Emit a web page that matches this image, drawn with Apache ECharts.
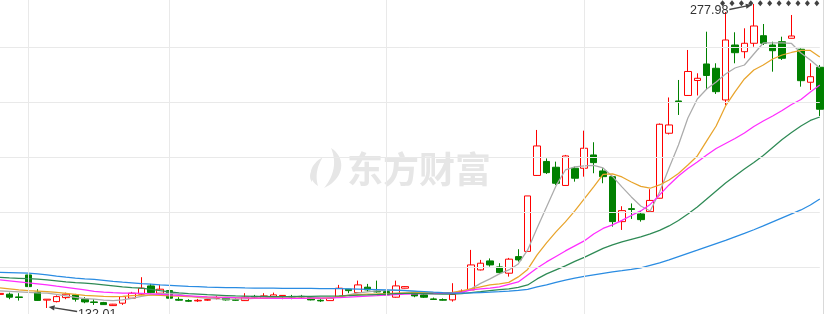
<!DOCTYPE html>
<html><head><meta charset="utf-8">
<script src="https://cdn.jsdelivr.net/npm/echarts@6/dist/echarts.min.js"></script>
<style>html,body{margin:0;padding:0;background:#fff;overflow:hidden}#c{width:826px;height:314px}</style>
</head><body><div id="c"></div>
<script>
// ---- data (price values) ----
const opens = [138.54,138.64,137.34,147.9,139.6,135.8,135.08,137.0,138.3,136.24,
134.94,134.6,133.16,134.32,136.72,138.64,142.62,139.12,140.36,136.14,
135.56,135.42,135.76,136.62,136.72,136.04,135.56,137.58,136.62,137.48,
137.82,137.58,137.58,137.0,135.71,135.56,137.2,141.04,139.4,142.0,
140.08,139.88,137.2,141.52,139.4,138.3,136.38,136.04,135.9,139.64,
140.7,150.3,154.62,151.74,148.72,156.68,159.18,195.66,202.38,199.6,
190.86,199.12,199.12,205.5,197.82,195.08,173.48,179.72,177.18,178.28,
184.72,215.92,231.42,234.06,241.26,249.18,247.12,231.9,258.3,255.08,
259.12,262.76,258.3,259.88,261.52,256.24,240.4,247.6];
const closes = [139.02,137.2,137.05,142.28,135.66,136.24,137.48,138.64,136.24,134.94,
134.65,133.64,133.84,137.48,139.12,141.52,139.4,141.04,136.72,135.76,
135.28,135.71,136.04,137.0,135.9,135.71,137.2,137.24,137.82,138.3,
138.06,137.34,137.34,135.9,135.42,136.72,141.52,140.36,143.1,140.7,
139.74,138.3,142.62,142.28,137.82,137.2,136.09,135.76,138.54,140.03,
152.7,153.52,152.7,149.0,155.46,155.1,185.82,209.82,197.0,191.9,
205.02,194.32,208.72,201.8,195.08,173.48,178.76,179.34,174.44,183.66,
220.24,219.9,231.08,245.58,242.32,243.66,235.88,260.7,254.6,259.12,
267.42,259.12,255.56,251.92,262.62,241.16,243.08,227.44];
const lows = [138.3,136.24,135.56,140.36,135.42,132.01,134.7,136.24,135.08,134.32,
133.5,133.5,133.02,133.5,136.38,138.3,139.12,138.78,136.24,135.42,
134.94,134.94,135.42,136.14,135.56,135.42,135.42,136.86,136.38,137.2,
136.24,136.24,136.86,135.66,134.94,135.42,137.0,139.12,139.26,139.88,
139.4,138.06,137.0,141.42,137.2,136.86,135.9,135.56,135.08,139.12,
140.56,150.06,151.88,148.38,147.08,154.28,159.08,195.42,196.38,191.1,
190.76,192.68,195.08,196.72,191.92,171.08,169.5,174.78,173.48,178.14,
184.62,215.34,224.7,233.82,234.06,236.7,234.78,229.5,249.52,251.92,
257.48,258.3,245.48,251.1,261.42,238.28,236.7,224.22];
const highs = [139.74,139.4,139.12,149.34,141.04,136.24,138.06,139.4,138.78,137.2,
136.24,134.94,133.98,137.58,139.74,146.8,143.58,143.1,141.04,137.2,
136.24,136.38,136.62,137.82,137.0,136.62,139.12,138.3,139.12,139.4,
138.06,138.3,138.3,137.34,136.24,136.86,143.1,141.18,145.16,143.58,
145.16,143.92,145.16,142.48,139.74,138.54,137.0,136.62,143.92,140.94,
159.9,155.1,155.82,153.52,156.06,160.24,185.82,217.5,203.82,202.28,
205.5,199.88,217.16,211.6,199.12,195.42,180.88,182.22,178.62,189.04,
220.62,233.1,241.5,255.9,244.72,264.68,249.52,274.14,264.4,266.32,
277.98,268.38,259.88,262.28,272.7,256.62,249.52,248.7];

const ma5 = [140.22,139.98,139.74,139.5,139.26,139.12,138.54,137.82,137.1,136.52,
136.24,135.76,135.61,135.9,136.62,137.58,138.3,138.92,139.12,138.54,
137.82,137.1,136.62,136.38,136.24,136.24,136.38,136.62,136.86,137.1,
137.34,137.48,137.58,137.34,136.86,136.62,137.34,138.3,139.26,139.74,
140.22,140.46,140.46,140.46,139.98,139.5,139.12,139.12,139.26,139.5,
141.18,143.82,145.98,148.38,150.3,153.18,159.9,170.46,180.54,190.62,
198.3,199.74,200.22,200.46,199.26,195.18,190.14,185.34,181.02,178.62,
187.74,199.26,210.3,223.26,232.38,237.18,240.54,244.38,247.26,248.7,
253.98,259.26,259.26,259.26,259.02,254.46,251.1,247.26];
const ma10 = [141.66,141.18,140.7,140.36,140.12,139.88,139.5,139.02,138.54,138.06,
137.82,137.58,137.44,137.58,137.92,138.2,138.2,138.06,137.82,137.68,
137.53,137.39,137.24,137.15,137.1,136.96,136.86,136.76,136.72,136.72,
136.76,136.76,136.72,136.62,136.62,136.86,137.58,138.06,138.4,138.64,
138.78,138.97,139.12,139.26,139.4,139.36,139.26,139.26,139.5,140.22,
141.18,142.14,143.1,143.58,144.3,146.94,150.54,157.5,163.26,168.54,
173.34,178.62,184.38,190.14,196.14,196.38,194.94,192.54,190.38,189.52,
191.1,193.5,196.62,200.7,205.02,212.22,219.42,229.02,235.74,241.98,
246.3,248.7,251.58,253.5,254.7,255.66,255.66,252.54];
const ma20 = [145.5,145.02,144.54,144.06,143.58,143.1,142.48,141.9,141.32,140.7,
139.98,139.64,139.36,139.16,139.12,139.02,138.78,138.54,138.3,138.06,
137.82,137.58,137.34,137.2,137.1,136.96,136.86,136.76,136.72,136.67,
136.62,136.62,136.67,136.72,136.76,136.86,137.05,137.24,137.48,137.72,
137.92,138.16,138.4,138.64,138.78,138.88,138.97,139.02,139.07,139.5,
140.7,141.18,141.52,142.14,143.34,144.54,147.9,151.26,154.14,156.78,
159.42,161.82,164.22,167.58,170.22,171.9,174.06,176.46,178.62,181.74,
186.3,191.1,195.42,199.02,202.14,205.5,208.62,211.02,213.42,216.06,
219.18,221.82,224.22,226.86,229.74,232.14,235.74,239.1];
const ma30 = [146.7,146.46,146.27,146.08,145.84,145.5,145.02,144.54,144.16,143.92,
143.58,143.1,142.62,142.14,141.8,141.52,140.94,140.32,139.74,139.26,
138.88,138.64,138.4,138.2,138.01,137.82,137.72,137.63,137.58,137.53,
137.53,137.53,137.58,137.63,137.68,137.72,137.82,137.96,138.16,138.3,
138.49,138.68,138.88,139.02,139.07,138.97,138.78,138.68,138.64,138.88,
139.36,139.84,140.36,140.8,141.18,141.9,143.1,145.98,148.38,150.3,
152.22,154.38,156.3,158.46,160.62,162.3,163.74,164.94,166.14,167.58,
169.26,171.42,174.06,177.18,180.54,184.38,188.22,192.06,195.42,198.78,
201.9,205.26,209.1,212.94,216.3,219.42,222.06,223.74];
const ma60 = [149.1,149.0,148.86,148.72,148.38,147.9,147.28,146.8,146.36,145.98,
145.74,145.26,144.78,144.4,144.06,143.72,143.44,143.1,142.86,142.62,
142.38,142.24,142.04,141.95,141.85,141.76,141.66,141.61,141.56,141.52,
141.47,141.47,141.42,141.42,141.37,141.32,141.28,141.18,141.08,140.99,
140.84,140.7,140.56,140.36,140.12,139.88,139.6,139.36,139.16,139.12,
139.26,139.45,139.64,139.84,140.12,140.46,140.94,142.14,143.1,144.3,
145.4,146.36,147.18,147.9,148.62,149.34,149.92,150.54,151.26,152.46,
153.66,155.1,156.68,158.22,159.76,161.34,162.92,164.46,166.14,167.82,
169.6,171.42,173.34,175.26,177.18,179.1,181.5,184.38];

const gridLevels = [257.33, 230.92, 204.51, 178.09, 151.68];
const monthStartIdx = [3, 18, 41, 62];
const highIdx = 80, highVal = 277.98;
const lowIdx = 5, lowVal = 132.01;
const peakDotIdx = [77, 78, 79, 80, 81, 82, 83, 84, 85, 86, 87];
const categories = opens.map((_, i) => 'K' + (i + 1));

// ---- chart ----
const chart = echarts.init(document.getElementById('c'), null, {renderer: 'canvas'});
const kData = opens.map((o, i) => [o, closes[i], lows[i], highs[i]]);
const maLine = (name, data, color) => ({
  name, type: 'line', data, symbol: 'none', smooth: false, silent: true,
  lineStyle: {color, width: 1.25}, z: 3, animation: false
});
const gridLine = {color: '#e9e9e9', width: 1, type: 'solid'};

chart.setOption({
  animation: false,
  backgroundColor: '#ffffff',
  grid: {left: 0, right: 6.2, top: 0, bottom: 0, containLabel: false},
  xAxis: {type: 'category', data: categories, boundaryGap: false,
    axisLine: {show: false}, axisTick: {show: false}, axisLabel: {show: false}, splitLine: {show: false}},
  yAxis: {type: 'value', min: 129.13, max: 279.9, position: 'right', offset: 3.3,
    axisLabel: {show: false}, axisTick: {show: false}, splitLine: {show: false},
    axisLine: {show: true, lineStyle: {color: '#d9d9d9', width: 1}}},
  series: [
    {type: 'line', data: categories.map(() => null), z: 1, silent: true, symbol: 'none',
      markLine: {silent: true, symbol: 'none', label: {show: false}, lineStyle: gridLine,
        data: monthStartIdx.map(i => ({xAxis: categories[i]})).concat(gridLevels.map(v => ({yAxis: v})))}},
    {type: 'candlestick', data: kData, barWidth: 7, z: 2,
      itemStyle: {color: 'transparent', color0: '#008000', borderColor: '#ff0000', borderColor0: '#008000', borderWidth: 1}},
    maLine('MA5', ma5, '#ababab'),
    maLine('MA10', ma10, '#e8a42c'),
    maLine('MA20', ma20, '#ff2cff'),
    maLine('MA30', ma30, '#2e8a55'),
    maLine('MA60', ma60, '#2a8ce2'),
    {type: 'scatter', silent: true, z: 6, symbol: 'diamond', symbolSize: [5, 6], symbolOffset: [-3, -0.7],
      itemStyle: {color: '#111'},
      data: peakDotIdx.map(i => [categories[i], highVal])}
  ]
});

// ---- annotations & watermark ----
const hp = chart.convertToPixel({xAxisIndex: 0, yAxisIndex: 0}, [highIdx, highVal]);
const lp = chart.convertToPixel({xAxisIndex: 0, yAxisIndex: 0}, [lowIdx, lowVal]);
function arrow(x1, y1, x2, y2, color) {
  const dx = x2 - x1, dy = y2 - y1, L = Math.hypot(dx, dy), ux = dx / L, uy = dy / L;
  const hl = 6, hw = 2.6;
  const bx = x2 - ux * hl, by = y2 - uy * hl;
  return [
    {type: 'line', shape: {x1, y1, x2: bx, y2: by}, style: {stroke: color, lineWidth: 1.3}, z: 50},
    {type: 'polygon', shape: {points: [[x2, y2], [bx - uy * hw, by + ux * hw], [bx + uy * hw, by - ux * hw]]},
      style: {fill: color}, z: 50}
  ];
}
function leaf(p0, c1, c2, p1, d1, d2) {
  const pts = [];
  const cub = (a, b, c, d, t) => {
    const u = 1 - t;
    return [u*u*u*a[0] + 3*u*u*t*b[0] + 3*u*t*t*c[0] + t*t*t*d[0],
            u*u*u*a[1] + 3*u*u*t*b[1] + 3*u*t*t*c[1] + t*t*t*d[1]];
  };
  for (let t = 0; t <= 1.0001; t += 0.05) pts.push(cub(p0, c1, c2, p1, t));
  for (let t = 0; t <= 1.0001; t += 0.05) pts.push(cub(p1, d1, d2, p0, t));
  return {type: 'polygon', z: -5, silent: true, shape: {points: pts}, style: {fill: '#e6e6e6'}};
}
const annColor = '#444';
const graphics = [
  {type: 'text', x: 347, y: 169, z: -5, silent: true,
    style: {text: '东方财富', fill: '#e6e6e6', font: 'bold 36px "Noto Sans CJK SC", sans-serif', verticalAlign: 'middle', align: 'left'}},
  leaf([331, 148], [347, 158], [344, 179], [324, 188], [334, 176], [337, 162]),
  leaf([323, 157], [307, 166], [308, 180], [318, 186], [315, 176], [317, 166]),
  leaf([315, 168], [309, 172], [309, 178], [312, 182], [312, 177], [313, 172]),
  {type: 'text', x: hp[0] - 25.5, y: hp[1] + 7, z: 50,
    style: {text: highVal.toFixed(2), fill: '#333', font: '12.5px "Liberation Sans", Arial, sans-serif', align: 'right', verticalAlign: 'middle'}},
  ...arrow(hp[0] - 24.5, hp[1] + 5.5, hp[0] - 2, hp[1] + 1, annColor),
  {type: 'text', x: lp[0] + 31, y: lp[1] + 6.5, z: 50,
    style: {text: lowVal.toFixed(2), fill: '#333', font: '12.5px "Liberation Sans", Arial, sans-serif', align: 'left', verticalAlign: 'middle'}},
  ...arrow(lp[0] + 30, lp[1] + 3.5, lp[0] + 1.5, lp[1] - 1, annColor)
];
chart.setOption({graphic: graphics});
</script>
</body></html>
